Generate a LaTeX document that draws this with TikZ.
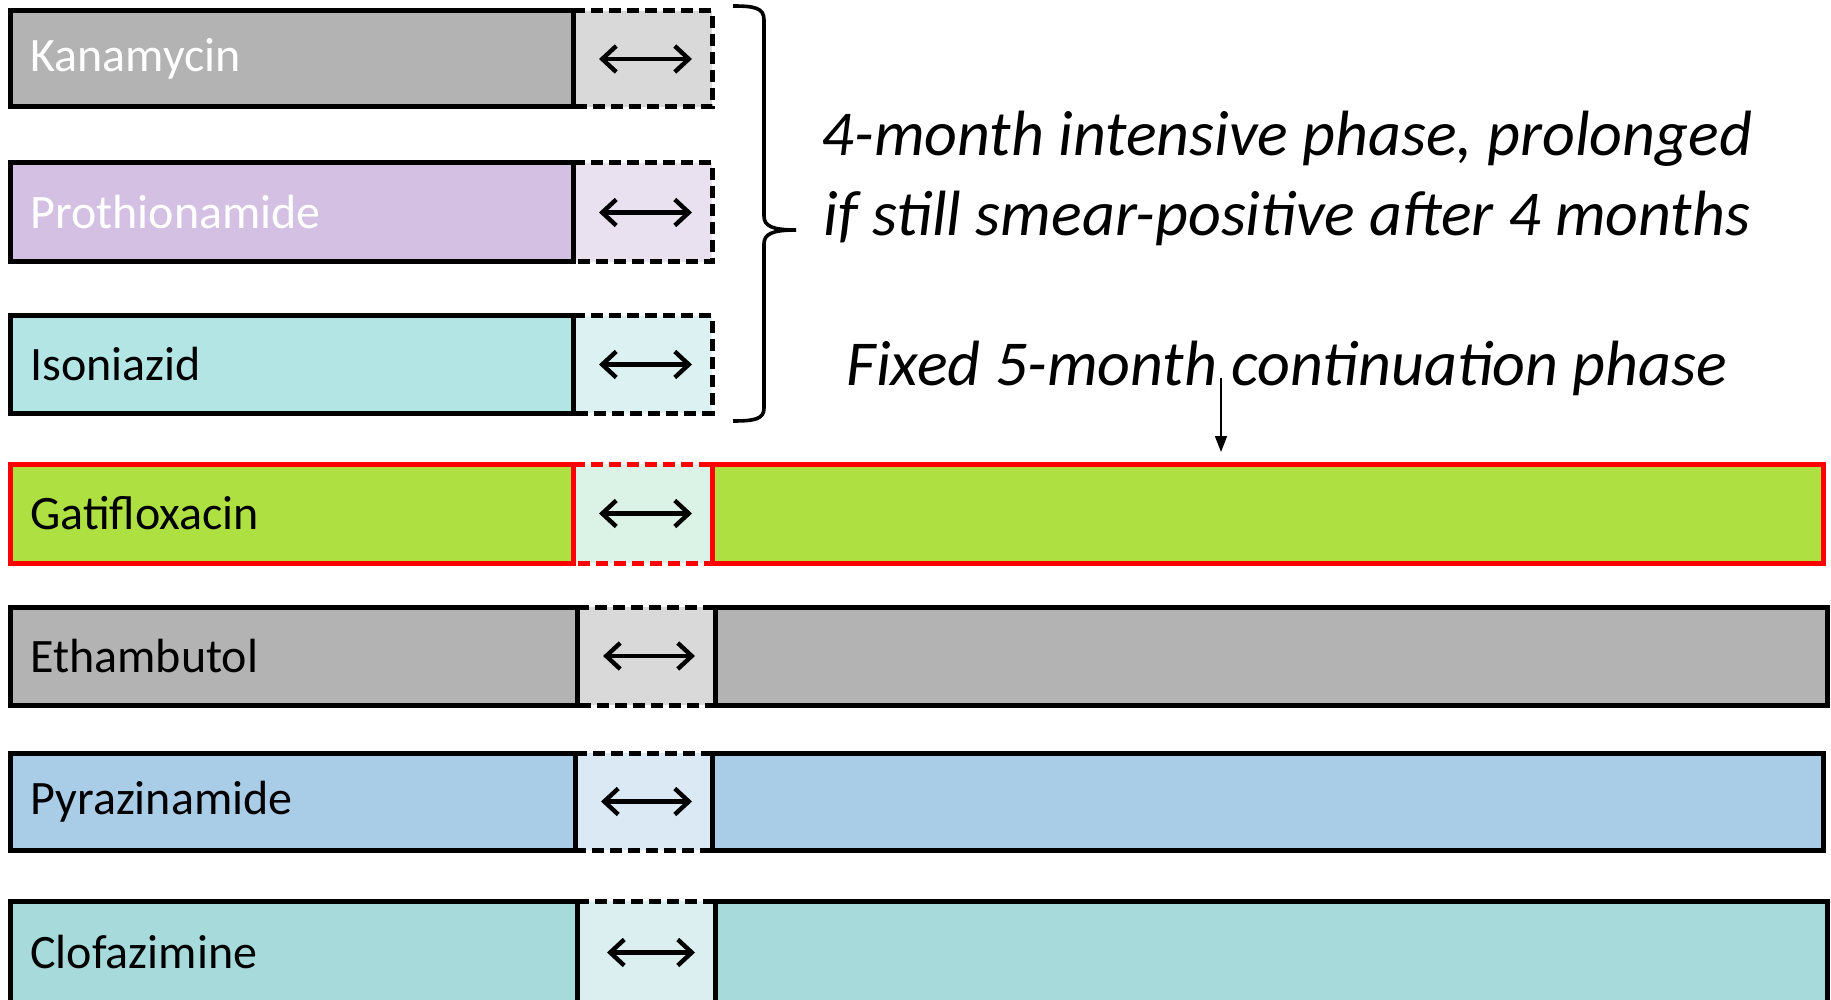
\documentclass[tikz,border=0pt]{standalone}
\usepackage{fontspec}
\setmainfont{Carlito}
\usetikzlibrary{fit,arrows.meta}
\definecolor{kanaC}{HTML}{B3B3B3}\definecolor{kanaL}{HTML}{D9D9D9}
\definecolor{protC}{HTML}{D4C0E2}\definecolor{protL}{HTML}{E9E0F0}
\definecolor{isoC}{HTML}{B2E5E4}\definecolor{isoL}{HTML}{DCF2F2}
\definecolor{gatiC}{HTML}{AFE041}\definecolor{gatiL}{HTML}{DBF2E6}
\definecolor{ethC}{HTML}{B3B3B3}\definecolor{ethL}{HTML}{D9D9D9}
\definecolor{pyrC}{HTML}{A9CCE7}\definecolor{pyrL}{HTML}{DAE9F4}
\definecolor{cloC}{HTML}{A7DADB}\definecolor{cloL}{HTML}{DBEFF0}
\definecolor{redline}{HTML}{FF0000}
\tikzset{
  bar/.style={draw, line width=2.5pt, inner sep=0pt, outer sep=0pt, line join=miter},
  gapbox/.style={inner sep=0pt, outer sep=0pt},
  dashline/.style={line width=2.5pt, dash pattern=on 6pt off 3pt},
  lbl/.style={anchor=west, inner sep=0pt, font=\fontsize{24pt}{28pt}\selectfont},
  dbl/.style={line width=2.2pt, {Straight Barb[length=7pt,width=13pt]}-{Straight Barb[length=7pt,width=13pt]}},
  headtxt/.style={inner sep=0pt, font=\fontsize{32pt}{40pt}\selectfont\itshape, align=center},
  thinarrow/.style={line width=0.9pt, -{Triangle[length=8pt,width=6pt]}},
  bracestyle/.style={line width=1.8pt}
}
\begin{document}
\begin{tikzpicture}[x=0.5pt,y=-0.5pt]
\useasboundingbox (0,0) rectangle (1831,1000);
\clip (0,0) rectangle (1831,1000);
% ---- Kanamycin
\node[gapbox, fill=kanaL, fit={(573,11) (712,107)}] (kanaG) {};
\draw[dashline] (kanaG.north west) -- (kanaG.north east) -- (kanaG.south east) -- (kanaG.south west);
\node[bar, fill=kanaC, fit={(10,11) (573,107)}] (kana) {};
\node[lbl, text=white] (kanaT) at ([xshift=10pt]kana.west) {Kanamycin};
\draw[dbl] ([xshift=13pt]kanaG.west) -- ([xshift=-10pt]kanaG.east);
% ---- Prothionamide
\node[gapbox, fill=protL, fit={(573,163) (712,262)}] (protG) {};
\draw[dashline] (protG.north west) -- (protG.north east) -- (protG.south east) -- (protG.south west);
\node[bar, fill=protC, fit={(10,163) (573,262)}] (prot) {};
\node[lbl, text=white] (protT) at ([xshift=10pt]prot.west) {Prothionamide};
\draw[dbl] ([xshift=13pt]protG.west) -- ([xshift=-10pt]protG.east);
% ---- Isoniazid
\node[gapbox, fill=isoL, fit={(573,316) (712,413)}] (isoG) {};
\draw[dashline] (isoG.north west) -- (isoG.north east) -- (isoG.south east) -- (isoG.south west);
\node[bar, fill=isoC, fit={(10,316) (573,413)}] (iso) {};
\node[lbl, text=black] (isoT) at ([xshift=10pt]iso.west) {Isoniazid};
\draw[dbl] ([xshift=13pt]isoG.west) -- ([xshift=-10pt]isoG.east);
% ---- Gatifloxacin
\node[gapbox, fill=gatiL, fit={(573,464) (712,563)}] (gatiG) {};
\draw[dashline, draw=redline] (gatiG.north west) -- (gatiG.north east) -- (gatiG.south east) -- (gatiG.south west);
\node[bar, draw=redline, fill=gatiC, fit={(10,464) (573,563)}] (gati) {};
\node[bar, draw=redline, fill=gatiC, fit={(712,464) (1823,563)}] (gatiCont) {};
\node[lbl, text=black] (gatiT) at ([xshift=10pt]gati.west) {Gatifloxacin};
\draw[dbl] ([xshift=13pt]gatiG.west) -- ([xshift=-10pt]gatiG.east);
% ---- Ethambutol
\node[gapbox, fill=ethL, fit={(577,607) (715,705)}] (ethG) {};
\draw[dashline] (ethG.north west) -- (ethG.north east) -- (ethG.south east) -- (ethG.south west);
\node[bar, fill=ethC, fit={(10,607) (577,705)}] (eth) {};
\node[bar, fill=ethC, fit={(715,607) (1827,705)}] (ethCont) {};
\node[lbl, text=black] (ethT) at ([xshift=10pt]eth.west) {Ethambutol};
\draw[dbl] ([xshift=13pt]ethG.west) -- ([xshift=-10pt]ethG.east);
% ---- Pyrazinamide
\node[gapbox, fill=pyrL, fit={(575,753) (712,850)}] (pyrG) {};
\draw[dashline] (pyrG.north west) -- (pyrG.north east) -- (pyrG.south east) -- (pyrG.south west);
\node[bar, fill=pyrC, fit={(10,753) (575,850)}] (pyr) {};
\node[bar, fill=pyrC, fit={(712,753) (1823,850)}] (pyrCont) {};
\node[lbl, text=black] (pyrT) at ([xshift=10pt]pyr.west) {Pyrazinamide};
\draw[dbl] ([xshift=13pt]pyrG.west) -- ([xshift=-10pt]pyrG.east);
% ---- Clofazimine
\node[gapbox, fill=cloL, fit={(577,901) (715,1004)}] (cloG) {};
\draw[dashline] (cloG.north west) -- (cloG.north east) -- (cloG.south east) -- (cloG.south west);
\node[bar, fill=cloC, fit={(10,901) (577,1004)}] (clo) {};
\node[bar, fill=cloC, fit={(715,901) (1827,1004)}] (cloCont) {};
\node[lbl, text=black] (cloT) at ([xshift=10pt]clo.west) {Clofazimine};
\draw[dbl] ([xshift=15pt]cloG.west) -- ([xshift=-10pt]cloG.east);
% ---- Brace
\draw[bracestyle] (733,6) .. controls (755,6) and (764,8) .. (764,20) -- (764,216)
  .. controls (764,226) and (772,230) .. (796,230)
  .. controls (772,230) and (764,234) .. (764,244) -- (764,408)
  .. controls (764,419) and (755,421) .. (733,421);
% ---- Texts
\node[headtxt] (intensive) at (1287,178) {4-month intensive phase, prolonged\\if still smear-positive after 4 months};
\node[headtxt, anchor=base] (fixed) at (1287,385) {Fixed 5-month continuation phase};
\coordinate (fixtop) at (1221,378);
\draw[thinarrow, shorten >=6pt] (fixtop) -- (fixtop |- gatiCont.north);
\end{tikzpicture}
\end{document}
